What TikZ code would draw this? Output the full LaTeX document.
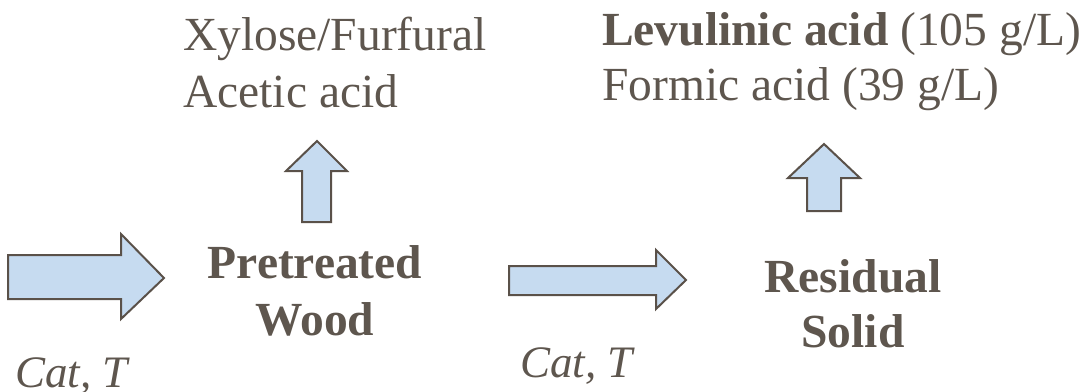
\documentclass[tikz,border=0pt]{standalone}
\usepackage{fontspec}
\setmainfont{Liberation Serif}
\definecolor{txt}{HTML}{5E564E}
\definecolor{arrfill}{HTML}{C6DBF0}
\definecolor{arrline}{HTML}{5A5149}
\begin{document}
\begin{tikzpicture}[x=1pt,y=-1pt,
  bigarrow/.style={fill=arrfill,draw=arrline,line width=2pt,line join=miter},
  lbl/.style={inner sep=0pt,text=txt,font=\fontsize{47.5}{56}\selectfont},
  blbl/.style={lbl,font=\fontsize{47.5}{56}\selectfont\bfseries},
  ilbl/.style={lbl,font=\fontsize{45}{54}\selectfont\itshape}]
\useasboundingbox (0,0) rectangle (1089,391);
% arrows
\draw[bigarrow] (8,255) -- (121,255) -- (121,234) -- (164,278) -- (121,319) -- (121,299) -- (8,299) -- cycle;
\draw[bigarrow] (302,222) -- (302,171) -- (286,171) -- (317,141) -- (347,171) -- (331,171) -- (331,222) -- cycle;
\draw[bigarrow] (509,266) -- (656,266) -- (656,250) -- (686,280) -- (656,309) -- (656,295) -- (509,295) -- cycle;
\draw[bigarrow] (807,211) -- (807,178) -- (788,178) -- (824,144) -- (860,178) -- (841,178) -- (841,211) -- cycle;
% texts
\node[lbl,anchor=base west] (xyl) at (183,50) {Xylose/Furfural};
\node[lbl,anchor=base west] (ace) at (183,107) {Acetic acid};
\node[lbl,anchor=base west] (lev) at (602,45) {\textbf{Levulinic acid} (105 g/L)};
\node[lbl,anchor=base west] (for) at (602,100) {Formic acid (39 g/L)};
\node[blbl,anchor=base] (pre) at (315,278) {Pretreated};
\node[blbl,anchor=base] (wood) at (315,335) {Wood};
\node[blbl,anchor=base] (res) at (853,292) {Residual};
\node[blbl,anchor=base] (sol) at (853,347) {Solid};
\node[ilbl,anchor=base west] (cat1) at (15,387) {Cat, T};
\node[ilbl,anchor=base west] (cat2) at (520,377) {Cat, T};
\end{tikzpicture}
\end{document}
